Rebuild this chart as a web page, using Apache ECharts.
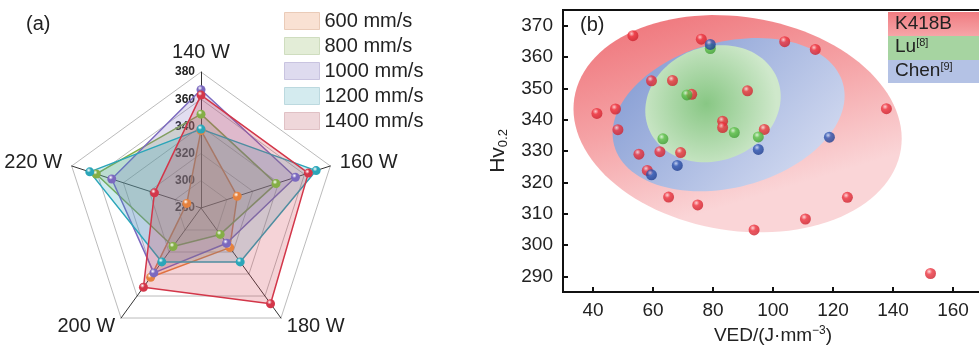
<!DOCTYPE html>
<html>
<head>
<meta charset="utf-8">
<script src="https://cdn.jsdelivr.net/npm/echarts@6/dist/echarts.min.js"></script>
<style>
  html, body { margin: 0; padding: 0; background: #fff; }
  #main { width: 979px; height: 347px; }
</style>
</head>
<body>
<div id="main"></div>
<script>
// (a) radar: hardness per laser power, one line per scan speed
const powers = ['140 W', '160 W', '180 W', '200 W', '220 W'];
const speeds = ['600 mm/s', '800 mm/s', '1000 mm/s', '1200 mm/s', '1400 mm/s'];
const hv600 = [337, 308, 316, 343, 291];
const hv800 = [349, 338, 304, 315, 361];
const hv1000 = [367, 353, 312, 339, 349];
const hv1200 = [338, 369, 329, 329, 366];
const hv1400 = [363, 363, 367, 352, 316];
const radarMin = 280;
const radarMax = 380;

// (b) scatter: [VED, Hv0.2]
const k418b = [
  [53.3, 366.8], [76.1, 365.7], [103.9, 364.9], [114.1, 362.4], [59.5, 352.4],
  [66.5, 352.5], [72.9, 348.1], [91.5, 349.2], [41.3, 342.0], [47.5, 343.4],
  [137.8, 343.5], [48.3, 336.8], [83.2, 339.5], [83.2, 337.5], [97.1, 336.9],
  [55.3, 329.0], [62.3, 329.8], [69.2, 329.5], [58.1, 323.8], [65.2, 315.3],
  [74.9, 312.8], [124.8, 315.2], [110.8, 308.3], [93.7, 304.8], [152.5, 290.9]
];
const lu = [[79.1, 362.7], [71.3, 347.9], [63.3, 333.9], [87.1, 335.9], [95.1, 334.5]];
const chen = [[79.1, 364.0], [68.1, 325.4], [59.5, 322.4], [118.8, 334.4], [95.1, 330.5]];
// envelopes: [centre VED, centre Hv, half width (VED), half height (Hv), tilt deg]
const envK418b = [88.2, 338.7, 55.1, 34.1, -9];
const envChen = [85.2, 341.6, 39.5, 23.2, 15];
const envLu = [80.0, 345.1, 23.0, 18.2, 20];
const xTicks = [40, 60, 80, 100, 120, 140, 160];
const yTicks = [290, 300, 310, 320, 330, 340, 350, 360, 370];

const lineColors = ['#E5823F', '#84AE46', '#7B69BF', '#2BA6B9', '#D3374A'];
const swatches = ['#F9E1D3', '#E3EDD7', '#DEDBEF', '#D4EBEF', '#EFD7DA'];
const swatchBorders = ['#EACBB8', '#CFDDBF', '#C9C4E0', '#BCD9DF', '#E0C1C5'];

// echarts lays radar axes out anticlockwise; the figure runs clockwise
const order = [0, 4, 3, 2, 1];

function sphere(light, mid, dark) {
  return {
    type: 'radial', x: 0.38, y: 0.32, r: 0.75,
    colorStops: [
      { offset: 0, color: light },
      { offset: 0.35, color: mid },
      { offset: 1, color: dark }
    ]
  };
}

function ellipseRenderer(fill) {
  return function (params, api) {
    const c = api.coord([api.value(0), api.value(1)]);
    const s = api.size([api.value(2), api.value(3)]);
    const rot = api.value(4) * Math.PI / 180;
    const pts = [];
    for (let i = 0; i < 120; i++) {
      const t = i / 120 * Math.PI * 2;
      const x = s[0] * Math.cos(t);
      const y = s[1] * Math.sin(t);
      pts.push([c[0] + x * Math.cos(rot) + y * Math.sin(rot),
                c[1] - x * Math.sin(rot) + y * Math.cos(rot)]);
    }
    return { type: 'polygon', shape: { points: pts }, style: { fill: fill } };
  };
}

const hvSets = [hv600, hv800, hv1000, hv1200, hv1400];
const radarSeries = speeds.map((name, i) => ({
  type: 'radar',
  name: name,
  symbol: 'circle',
  symbolSize: 9,
  lineStyle: { width: 1.5, color: lineColors[i] },
  itemStyle: { color: sphere('#ffffff', lineColors[i], lineColors[i]) },
  areaStyle: { color: lineColors[i], opacity: 0.22 },
  data: [{ name: name, value: order.map(k => hvSets[i][k]) }]
}));

const tickFont = { fontFamily: 'Liberation Sans, Arial', fontSize: 19, color: '#222' };

const chart = echarts.init(document.getElementById('main'));
chart.setOption({
  animation: false,
  legend: {
    orient: 'vertical',
    left: 279,
    top: 6,
    icon: 'rect',
    itemWidth: 35,
    itemHeight: 17,
    itemGap: 5,
    textStyle: { fontFamily: 'Liberation Sans, Arial', fontSize: 20, color: '#222' },
    data: speeds.map((s, i) => ({
      name: s,
      itemStyle: { color: swatches[i], borderColor: swatchBorders[i], borderWidth: 1 }
    }))
  },
  radar: {
    center: [201, 208],
    radius: 136,
    shape: 'polygon',
    splitNumber: 5,
    axisNameGap: 10,
    axisName: { fontFamily: 'Liberation Sans, Arial', fontSize: 20, color: '#222' },
    axisLine: { lineStyle: { color: '#333', width: 1 } },
    splitLine: { lineStyle: { color: '#aaa', width: 0.8 } },
    splitArea: { show: false },
    axisLabel: { show: false },
    indicator: order.map((k, i) => ({
      name: powers[k], min: radarMin, max: radarMax,
      axisLabel: i === 0 ? {
        show: true, fontSize: 12, fontWeight: 'bold', color: '#222',
        fontFamily: 'Liberation Sans, Arial',
        textBorderColor: '#fff', textBorderWidth: 2.5, margin: 6
      } : { show: false }
    }))
  },
  grid: {
    left: 563, top: 10, width: 420, height: 282,
    outerBoundsMode: 'none',
    show: true, borderColor: '#111', borderWidth: 2, backgroundColor: 'transparent'
  },
  xAxis: {
    type: 'value', min: 30, max: 170,
    name: '{t|VED/(J·mm}{s|−3}{t|)}',
    nameLocation: 'middle', nameGap: 30,
    nameTextStyle: {
      rich: {
        t: { fontFamily: 'Liberation Sans, Arial', fontSize: 19, color: '#222', lineHeight: 24 },
        s: { fontFamily: 'Liberation Sans, Arial', fontSize: 12, color: '#222', lineHeight: 24, padding: [0, 0, 10, 0] }
      }
    },
    axisLine: { lineStyle: { color: '#111', width: 2 } },
    axisTick: { inside: true, length: 5, lineStyle: { width: 2, color: '#111' }, customValues: xTicks },
    axisLabel: Object.assign({ margin: 9, customValues: xTicks }, tickFont),
    splitLine: { show: false }
  },
  yAxis: {
    type: 'value', min: 285, max: 375,
    name: '{t|Hv}{s|0.2}',
    nameLocation: 'middle', nameGap: 52, nameRotate: 90,
    nameTextStyle: {
      rich: {
        t: { fontFamily: 'Liberation Sans, Arial', fontSize: 21, color: '#222', lineHeight: 26 },
        s: { fontFamily: 'Liberation Sans, Arial', fontSize: 13, color: '#222', lineHeight: 26, padding: [10, 0, 0, 0] }
      }
    },
    axisLine: { lineStyle: { color: '#111', width: 2 } },
    axisTick: { inside: true, length: 5, lineStyle: { width: 2, color: '#111' }, customValues: yTicks },
    axisLabel: Object.assign({ margin: 10, customValues: yTicks }, tickFont),
    splitLine: { show: false }
  },
  graphic: [
    { type: 'text', left: 26, top: 14, style: { text: '(a)', font: '20px Liberation Sans, Arial', fill: '#222' } },
    { type: 'text', left: 580, top: 15, style: { text: '(b)', font: '20px Liberation Sans, Arial', fill: '#222' } },
    { type: 'rect', left: 888, top: 12, shape: { width: 100, height: 24 },
      style: { fill: { type: 'linear', x: 0, y: 0, x2: 0, y2: 1, colorStops: [{ offset: 0, color: '#F07C81' }, { offset: 1, color: '#F6A5A8' }] } } },
    { type: 'rect', left: 888, top: 36, shape: { width: 100, height: 24 }, style: { fill: '#A6D4A1' } },
    { type: 'rect', left: 888, top: 60, shape: { width: 100, height: 23 }, style: { fill: '#B4C2E5' } },
    { type: 'text', left: 895, top: 14, style: { text: 'K418B', font: '19px Liberation Sans, Arial', fill: '#222' } },
    { type: 'text', left: 895, top: 37, style: {
      text: '{t|Lu}{s|[8]}', rich: {
        t: { fontFamily: 'Liberation Sans, Arial', fontSize: 19, fill: '#222', lineHeight: 22 },
        s: { fontFamily: 'Liberation Sans, Arial', fontSize: 11, fill: '#222', lineHeight: 22, padding: [0, 0, 9, 0] } } } },
    { type: 'text', left: 895, top: 61, style: {
      text: '{t|Chen}{s|[9]}', rich: {
        t: { fontFamily: 'Liberation Sans, Arial', fontSize: 19, fill: '#222', lineHeight: 22 },
        s: { fontFamily: 'Liberation Sans, Arial', fontSize: 11, fill: '#222', lineHeight: 22, padding: [0, 0, 9, 0] } } } }
  ],
  series: radarSeries.concat([
    {
      type: 'custom', name: 'envK418B', z: 1, silent: true,
      renderItem: ellipseRenderer({ type: 'linear', x: 0, y: 0, x2: 0.2, y2: 1,
        colorStops: [{ offset: 0, color: '#EE6E74' }, { offset: 0.55, color: '#F5A3A6' }, { offset: 1, color: '#FAD5D7' }] }),
      data: [envK418b]
    },
    {
      type: 'custom', name: 'envChen', z: 2, silent: true,
      renderItem: ellipseRenderer({ type: 'linear', x: 0, y: 0, x2: 0.7, y2: 1,
        colorStops: [{ offset: 0, color: '#7C95D0' }, { offset: 1, color: '#CCD5EE' }] }),
      data: [envChen]
    },
    {
      type: 'custom', name: 'envLu', z: 3, silent: true,
      renderItem: ellipseRenderer({ type: 'radial', x: 0.45, y: 0.5, r: 0.6,
        colorStops: [{ offset: 0, color: '#88C784' }, { offset: 1, color: '#CFE8CB' }] }),
      data: [envLu]
    },
    {
      type: 'scatter', name: 'K418B', z: 4, symbolSize: 11,
      itemStyle: { color: sphere('#FFD6D8', '#EE3540', '#C81E2A') },
      data: k418b
    },
    {
      type: 'scatter', name: 'Lu', z: 5, symbolSize: 11,
      itemStyle: { color: sphere('#DDF5D6', '#5EC04A', '#3C9A30') },
      data: lu
    },
    {
      type: 'scatter', name: 'Chen', z: 6, symbolSize: 11,
      itemStyle: { color: sphere('#C8D4F5', '#2F55B0', '#1C3A8A') },
      data: chen
    }
  ])
});
</script>
</body>
</html>
